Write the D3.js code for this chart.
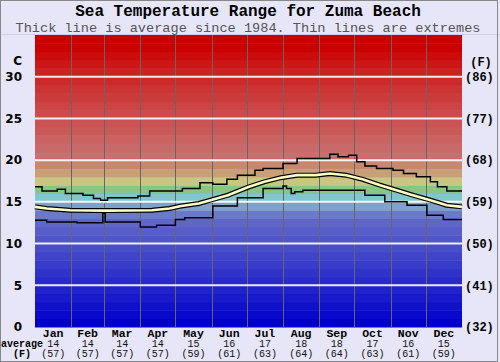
<!DOCTYPE html>
<html>
<head>
<meta charset="utf-8">
<script src="https://cdn.jsdelivr.net/npm/d3@7"></script>
<style>
  body { margin: 0; background: #fff; }
  text { font-family: "Liberation Mono", "DejaVu Sans Mono", monospace; }
  .cel { font-family: "DejaVu Sans", sans-serif; font-weight: bold; font-size: 12px; }
</style>
</head>
<body>
<div id="chart"></div>
<script>

const width = 500, height = 362;
const margin = ({top: 35, right: 38, bottom: 35, left: 35});

const months = ["Jan","Feb","Mar","Apr","May","Jun","Jul","Aug","Sep","Oct","Nov","Dec"];
const monthDays = [31,28,31,30,31,30,31,31,30,31,30,31];
const avgC = [14,14,14,14,15,16,17,18,18,17,16,15];
const avgF = [57,57,57,57,59,61,63,64,64,63,61,59];

const celTicks = [0,5,10,15,20,25,30];
const fahTicks = ["(32)","(41)","(50)","(59)","(68)","(77)","(86)"];

// [day of year, deg C]
const maxLine = [[0,16.8],[6,16.3],[19,16.5],[26,16.0],[41,15.8],[50,15.4],[56,15.2],[62,15.5],[88,15.7],
  [98,16.3],[126,16.6],[141,17.3],[152,17.1],[164,17.7],[173,18.2],[188,18.8],[195,19.0],[212,19.6],
  [224,20.2],[252,20.7],[259,20.4],[268,20.6],[275,19.8],[282,19.3],[292,19.0],[306,18.8],[315,18.4],
  [326,18.0],[338,17.4],[344,16.8],[352,16.3],[365,16.3]];

const minLine = [[0,12.8],[10,12.6],[36,12.5],[58,13.7],[60,12.6],[90,12.0],[104,12.2],[120,12.9],
  [128,13.1],[152,14.5],[173,15.5],[195,16.6],[212,16.9],[215,16.6],[219,16.0],[222,16.2],[229,16.4],
  [282,15.8],[299,15.0],[318,14.6],[335,13.4],[349,12.9],[365,12.9]];

const meanLine = [[0,14.4],[10,14.2],[30,14.0],[60,13.95],[100,14.0],[115,14.2],[125,14.5],[140,14.8],
  [150,15.2],[165,15.8],[183,16.8],[196,17.4],[210,17.9],[224,18.2],[240,18.2],[252,18.4],[266,18.2],
  [280,17.7],[295,17.0],[309,16.4],[323,15.8],[338,15.2],[352,14.6],[365,14.4]];

var svg = d3.select("#chart").append("svg")
  .attr("width", width)
  .attr("height", height);

svg.append("rect")
  .attr("width", width).attr("height", height)
  .attr("fill", "#e6e6f8");

svg.append("line")
  .attr("x1", 0).attr("x2", width).attr("y1", 34.5).attr("y2", 34.5)
  .attr("stroke", "#cfcfe0");

var x = d3.scaleLinear().domain([0, 365]).range([margin.left, width - margin.right]);
var y = d3.scaleLinear().domain([0, 35]).range([height - margin.bottom, margin.top]);

var bandColor = d3.scaleLinear()
  .domain([0, 12, 13, 14, 15, 16, 17, 18, 19, 20, 25, 30, 33])
  .range(["#0000cc","#6066c8","#6a7ac8","#80a2c8","#80c8c8","#84c884","#c8c680","#c8a078",
          "#c88870","#c87070","#cc4c4c","#cc2222","#cc0000"]);

// BACKGROUND BANDS, one per degree
svg.append("g").selectAll("rect")
  .data(d3.range(0, 35))
  .enter().append("rect")
    .attr("x", x(0))
    .attr("width", x(365) - x(0))
    .attr("y", d => y(d + 1))
    .attr("height", d => y(d) - y(d + 1) + 0.5)
    .attr("fill", d => bandColor(d));

// MONTH DIVIDERS
var cum = [0];
monthDays.forEach((d, i) => cum.push(cum[i] + d));

svg.append("g").selectAll("line")
  .data(cum.slice(1, 12))
  .enter().append("line")
    .attr("x1", d => Math.round(x(d)) + 0.5).attr("x2", d => Math.round(x(d)) + 0.5)
    .attr("y1", y(35)).attr("y2", y(0))
    .attr("stroke", "#666");

// WHITE GRID LINES
svg.append("g").selectAll("line")
  .data(celTicks.slice(1))
  .enter().append("line")
    .attr("x1", x(0)).attr("x2", x(365))
    .attr("y1", d => y(d)).attr("y2", d => y(d))
    .attr("stroke", "#fff")
    .attr("stroke-opacity", 0.9)
    .attr("stroke-width", 2);

// LINES
var line = d3.line().x(d => x(d[0])).y(d => y(d[1]));
var stepLine = d3.line().x(d => x(d[0])).y(d => y(d[1])).curve(d3.curveStepAfter);

svg.append("path").datum(maxLine)
  .attr("d", stepLine).attr("fill", "none")
  .attr("stroke", "#000").attr("stroke-width", 1.5);

svg.append("path").datum(minLine)
  .attr("d", stepLine).attr("fill", "none")
  .attr("stroke", "#000").attr("stroke-width", 1.5);

svg.append("path").datum(meanLine)
  .attr("d", line).attr("fill", "none")
  .attr("stroke", "#000").attr("stroke-width", 5);

svg.append("path").datum(meanLine)
  .attr("d", line).attr("fill", "none")
  .attr("stroke", "#ffffc4").attr("stroke-width", 2.6);

// TITLES
svg.append("text")
  .attr("x", 248).attr("y", 15.5)
  .attr("text-anchor", "middle")
  .style("font-size", "16px").style("font-weight", "bold")
  .text("Sea Temperature Range for Zuma Beach");

svg.append("text")
  .attr("x", 248).attr("y", 31.5)
  .attr("text-anchor", "middle")
  .style("font-size", "13.6px").attr("fill", "#555")
  .text("Thick line is average since 1984. Thin lines are extremes");

// AXIS LABELS
svg.append("g").selectAll("text")
  .data(celTicks)
  .enter().append("text")
    .attr("class", "cel")
    .attr("x", 22).attr("y", d => y(d))
    .attr("dy", "0.36em")
    .attr("text-anchor", "end")
    .text(d => d);

svg.append("text").attr("class", "cel")
  .attr("x", 22).attr("y", 61).attr("dy", "0.36em")
  .attr("text-anchor", "end").text("C");

svg.append("g").selectAll("text")
  .data(fahTicks)
  .enter().append("text")
    .attr("x", 465).attr("y", (d, i) => y(celTicks[i]))
    .attr("dy", "0.36em")
    .style("font-size", "12px").style("font-weight", "bold")
    .text(d => d);

svg.append("text")
  .attr("x", 481).attr("y", 62).attr("dy", "0.36em")
  .attr("text-anchor", "middle")
  .style("font-size", "12px").style("font-weight", "bold")
  .text("(F)");

// MONTH LABELS
var mlab = svg.append("g").selectAll("g")
  .data(months)
  .enter().append("g")
    .attr("transform", (d, i) => "translate(" + x((cum[i] + cum[i + 1]) / 2) + ",0)");

mlab.append("text").attr("y", 336.5).attr("text-anchor", "middle")
  .style("font-size", "11.5px").style("font-weight", "bold")
  .text(d => d);

mlab.append("text").attr("y", 346.5).attr("text-anchor", "middle")
  .style("font-size", "10px").attr("fill", "#111")
  .text((d, i) => avgC[i]);

mlab.append("text").attr("y", 357).attr("text-anchor", "middle")
  .style("font-size", "10px").attr("fill", "#111")
  .text((d, i) => "(" + avgF[i] + ")");

svg.append("text").attr("x", 22).attr("y", 346.5).attr("text-anchor", "middle")
  .style("font-size", "10px").style("font-weight", "bold")
  .text("average");

svg.append("text").attr("x", 22).attr("y", 357).attr("text-anchor", "middle")
  .style("font-size", "10px").style("font-weight", "bold")
  .text("(F)");

// FRAME
svg.append("rect")
  .attr("x", 0.5).attr("y", 0.5)
  .attr("width", width - 3).attr("height", height - 1)
  .attr("fill", "none").attr("stroke", "#888");

</script>
</body>
</html>
